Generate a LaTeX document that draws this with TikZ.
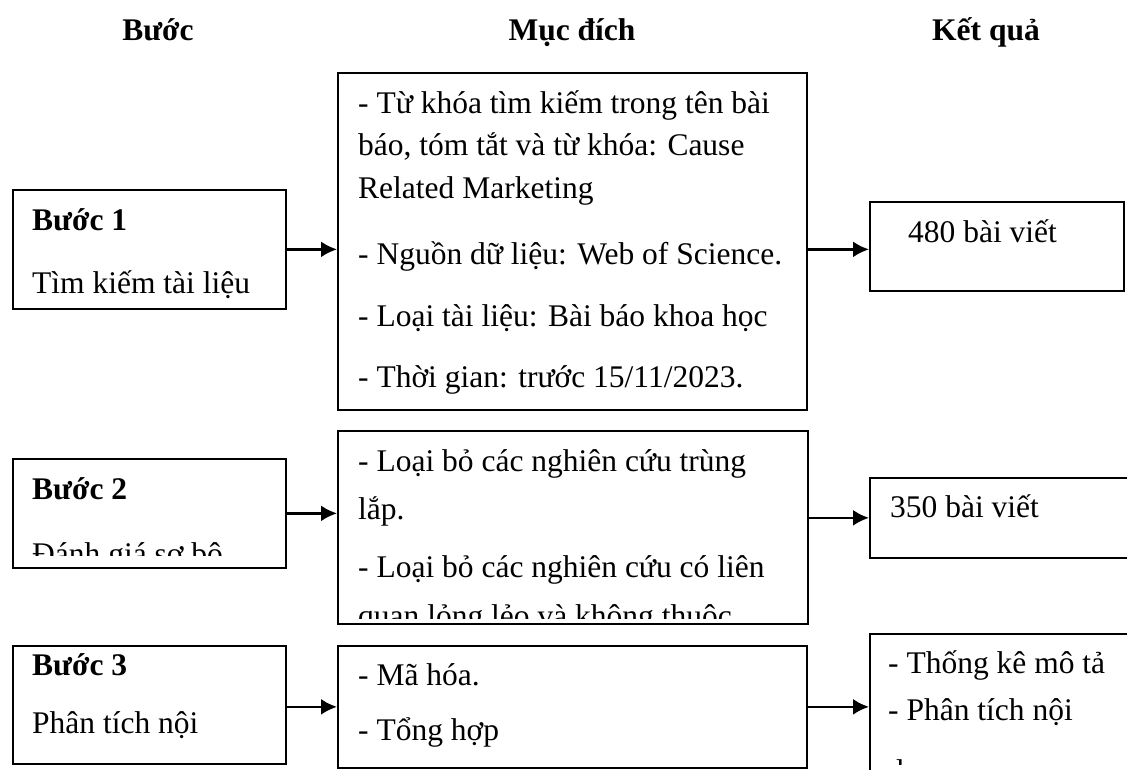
\documentclass[tikz,border=0pt]{standalone}
\usepackage{fontspec}
\setmainfont{Liberation Serif}
\usetikzlibrary{arrows.meta}
\begin{document}
\begin{tikzpicture}[x=1pt,y=-1pt,
  box/.style={draw=black,line width=1.7pt,rectangle,inner sep=0pt,anchor=north west},
  txt/.style={anchor=base west,inner sep=0pt,font=\fontsize{31.5}{38}\selectfont},
  head/.style={anchor=base,inner sep=0pt,font=\fontsize{31.5}{38}\selectfont\bfseries},
  arr/.style={line width=2.4pt,-{Latex[length=16pt,width=16pt]}}]
\clip (0,0) rectangle (1127,769);
\fill[white] (0,0) rectangle (1127,769);

% column headings
\node[head] (h1) at (158,40) {Bước};
\node[head] (h2) at (572,40) {Mục đích};
\node[head] (h3) at (986,40) {Kết quả};

% boxes
\node[box,minimum width=273pt,minimum height=119pt] (s1) at (12,189) {};
\node[box,minimum width=469pt,minimum height=337pt] (m1) at (337,72) {};
\node[box,minimum width=254pt,minimum height=89pt] (r1) at (869,201) {};

\node[box,minimum width=273pt,minimum height=109pt] (s2) at (12,458) {};
\node[box,minimum width=470pt,minimum height=193pt] (m2) at (337,430) {};
\node[box,minimum width=280pt,minimum height=80pt] (r2) at (869,477) {};

\node[box,minimum width=273pt,minimum height=118pt] (s3) at (12,645) {};
\node[box,minimum width=469pt,minimum height=122pt] (m3) at (337,645) {};
\node[box,minimum width=280pt,minimum height=160pt] (r3) at (869,633) {};

% step 1
\node[txt] (s1a) at (32,230) {\bfseries Bước 1};
\node[txt] (s1b) at (32,293) {Tìm kiếm tài liệu};
\node[txt] (m1a) at (358,113) {- Từ khóa tìm kiếm trong tên bài};
\node[txt] (m1b) at (358,155.5) {báo, tóm tắt và từ khóa: Cause};
\node[txt] (m1c) at (358,198) {Related Marketing};
\node[txt] (m1d) at (358,264) {- Nguồn dữ liệu: Web of Science.};
\node[txt] (m1e) at (358,326) {- Loại tài liệu: Bài báo khoa học};
\node[txt] (m1f) at (358,387) {- Thời gian: trước 15/11/2023.};
\node[txt] (r1a) at (908,242) {480 bài viết};

% step 2
\node[txt] (s2a) at (32,499) {\bfseries Bước 2};
\begin{scope}
  \clip (12,458) rectangle (285,555);
  \node[txt] (s2b) at (32,564) {Đánh giá sơ bộ};
\end{scope}
\node[txt] (m2a) at (358,471) {- Loại bỏ các nghiên cứu trùng};
\node[txt] (m2b) at (358,519) {lắp.};
\node[txt] (m2c) at (358,577) {- Loại bỏ các nghiên cứu có liên};
\begin{scope}
  \clip (337,430) rectangle (807,618);
  \node[txt] (m2d) at (358,626) {quan lỏng lẻo và không thuộc};
\end{scope}
\node[txt] (r2a) at (890,517) {350 bài viết};

% step 3
\node[txt] (s3a) at (32,675) {\bfseries Bước 3};
\node[txt] (s3b) at (32,733) {Phân tích nội};
\node[txt] (m3a) at (358,685) {- Mã hóa.};
\node[txt] (m3b) at (358,740) {- Tổng hợp};
\node[txt] (r3a) at (888,673) {- Thống kê mô tả};
\node[txt] (r3b) at (888,720) {- Phân tích nội};
\begin{scope}
  \clip (869,633) rectangle (1127,764);
  \node[txt] (r3c) at (888,781) {dung};
\end{scope}

% connectors
\draw[arr] (s1.east) -- (s1.east -| m1.west);
\draw[arr] (s1.east -| m1.east) -- (s1.east -| r1.west);
\draw[arr] (s2.east) -- (s2.east -| m2.west);
\draw[arr] (r2.west -| m2.east) -- (r2.west);
\draw[arr] (m3.west -| s3.east) -- (m3.west);
\draw[arr] (m3.east) -- (m3.east -| r3.west);
\end{tikzpicture}
\end{document}
